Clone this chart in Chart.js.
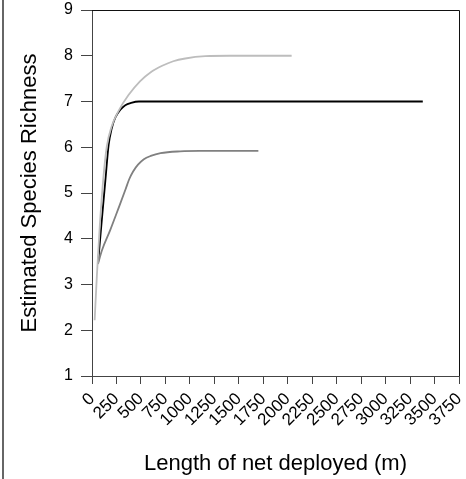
<!DOCTYPE html>
<html>
<head>
<meta charset="utf-8">
<script src="https://cdn.jsdelivr.net/npm/chart.js@4"></script>
<style>
  body { margin: 0; background: #fff; }
</style>
</head>
<body>
<canvas id="myChart" width="466" height="479"></canvas>
<script>
const ctx = document.getElementById('myChart');

// curve points: [length of net (m), richness]
var lightGray = [[27, 2.22], [50, 3.2], [80, 4.3], [115, 5.3], [150, 6.0], [200, 6.45], [273, 6.8], [373, 7.14], [490, 7.44], [600, 7.64], [717, 7.78], [830, 7.88], [953, 7.94], [1158, 7.99], [1400, 8.0], [2040, 8.0]];
var black = [[61, 3.45], [100, 4.4], [137, 5.28], [170, 6.05], [200, 6.4], [239, 6.65], [290, 6.82], [340, 6.92], [400, 6.97], [480, 7.0], [3380, 7.0]];
var darkGray = [[61, 3.45], [102, 3.75], [188, 4.2], [280, 4.72], [341, 5.07], [380, 5.3], [420, 5.47], [470, 5.62], [530, 5.74], [600, 5.81], [700, 5.87], [900, 5.91], [1100, 5.92], [1700, 5.92]];

var xTicks = [0, 250, 500, 750, 1000, 1250, 1500, 1750, 2000, 2250, 2500, 2750, 3000, 3250, 3500, 3750];
var yTicks = [1, 2, 3, 4, 5, 6, 7, 8, 9];

function pts(arr) {
    return arr.map(function (p) { return { x: p[0], y: p[1] }; });
}

// top/right frame of the plot and the figure's left edge
const frame = {
    id: 'frame',
    afterDraw: function (chart) {
        var c = chart.ctx, a = chart.chartArea;
        c.save();
        c.strokeStyle = '#111';
        c.lineWidth = 1;
        c.beginPath();
        c.moveTo(a.left, a.top + 0.5);
        c.lineTo(a.right + 0.5, a.top + 0.5);
        c.lineTo(a.right + 0.5, a.bottom);
        c.stroke();
        c.strokeStyle = '#333';
        c.lineWidth = 1.5;
        c.beginPath();
        c.moveTo(3, 0);
        c.lineTo(3, chart.height);
        c.stroke();
        c.restore();
    }
};

const font = "'Liberation Sans', Arial, sans-serif";

const chart = new Chart(ctx, {
    type: 'line',
    data: {
        datasets: [
            { data: pts(lightGray), borderColor: '#bdbdbd' },
            { data: pts(darkGray), borderColor: '#808080' },
            { data: pts(black), borderColor: '#000000' }
        ]
    },
    options: {
        responsive: false,
        animation: false,
        layout: { padding: { left: 6, right: 7, top: 10, bottom: 0 } },
        elements: {
            point: { radius: 0 },
            line: { borderWidth: 1.8, cubicInterpolationMode: 'monotone', fill: false }
        },
        scales: {
            x: {
                type: 'linear',
                min: 0,
                max: 3750,
                afterBuildTicks: function (axis) {
                    axis.ticks = xTicks.map(function (v) { return { value: v }; });
                },
                afterFit: function (axis) {
                    axis.height = 103;
                    axis.paddingLeft = 0;
                    axis.paddingRight = 0;
                },
                grid: { drawOnChartArea: false, tickLength: 8, color: '#444' },
                border: { color: '#444' },
                ticks: {
                    autoSkip: false,
                    minRotation: 45,
                    maxRotation: 45,
                    padding: 5,
                    color: '#000',
                    font: { family: font, size: 17 },
                    callback: function (v) { return String(v); }
                },
                title: {
                    display: true,
                    text: 'Length of net deployed (m)',
                    color: '#000',
                    padding: { top: 0, bottom: 2 },
                    font: { family: font, size: 22 }
                }
            },
            y: {
                min: 1,
                max: 9,
                afterBuildTicks: function (axis) {
                    axis.ticks = yTicks.map(function (v) { return { value: v }; });
                },
                afterFit: function (axis) {
                    axis.width = 86;
                    axis.paddingTop = 0;
                    axis.paddingBottom = 0;
                },
                grid: { drawOnChartArea: false, tickLength: 11, color: '#444' },
                border: { color: '#444' },
                ticks: {
                    padding: 8,
                    color: '#000',
                    font: { family: font, size: 16 },
                    callback: function (v) { return String(v); }
                },
                title: {
                    display: true,
                    text: 'Estimated Species Richness',
                    color: '#000',
                    padding: { top: 11, bottom: 0 },
                    font: { family: font, size: 22 }
                }
            }
        },
        plugins: {
            legend: { display: false },
            tooltip: { enabled: false }
        }
    },
    plugins: [frame]
});
</script>
</body>
</html>
